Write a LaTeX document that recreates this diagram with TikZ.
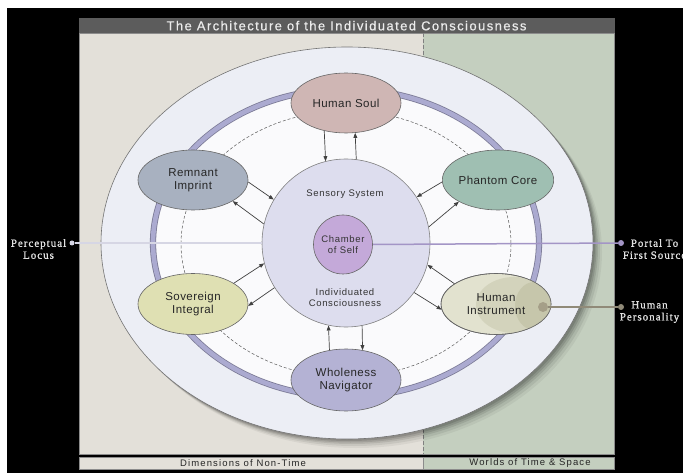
\documentclass[tikz,border=0pt]{standalone}
\usepackage{fontspec}
\setmainfont{Liberation Sans}
\newfontfamily\lblfont[LetterSpace=4]{Liberation Sans}
\newfontfamily\cfont[LetterSpace=7]{Liberation Sans}
\newfontfamily\titlefont[LetterSpace=11,FakeBold=0.6]{Liberation Sans}
\newfontfamily\footfont[LetterSpace=12]{Liberation Sans}
\newfontfamily\sidefont[LetterSpace=9,FakeBold=1]{Liberation Serif}
\usetikzlibrary{shapes.geometric,arrows.meta}
\definecolor{beige}{HTML}{E3E0D9}
\definecolor{sage}{HTML}{C4CFBF}
\definecolor{titlegray}{HTML}{5C5C5C}
\definecolor{outerfill}{HTML}{ECEEF5}
\definecolor{innerfill}{HTML}{FAFAFC}
\definecolor{ringedge}{HTML}{7C7B96}
\definecolor{ringfill}{HTML}{ABAAD0}
\definecolor{centerfill}{HTML}{DDDDEE}
\definecolor{chamberfill}{HTML}{C4A9D9}
\definecolor{soulfill}{HTML}{CFB6B4}
\definecolor{remfill}{HTML}{A8B1C0}
\definecolor{phanfill}{HTML}{9FBFB2}
\definecolor{sovfill}{HTML}{DFE0B3}
\definecolor{wholefill}{HTML}{B4B2D4}
\definecolor{hione}{HTML}{E2E2CF}
\definecolor{hitwo}{HTML}{D3D3BC}
\definecolor{hithree}{HTML}{C6C6AB}
\definecolor{hidot}{HTML}{A59F88}
\definecolor{portalline}{HTML}{A395C6}
\definecolor{locusline}{HTML}{D6D6E4}
\definecolor{persline}{HTML}{908A78}
\definecolor{sidetext}{HTML}{E2E2E2}
\tikzset{
  sat/.style={ellipse, draw=black!60, line width=0.6bp, inner sep=0pt,
    minimum width=110bp, minimum height=60bp, align=center,
    font=\lblfont\fontsize{11.5bp}{13bp}\selectfont, text=black!85},
  ctext/.style={align=center, inner sep=0pt,
    font=\cfont\fontsize{9.5bp}{10.5bp}\selectfont, text=black!80},
  arr/.style={-{Triangle[length=5bp,width=3.8bp]}, draw=black!75, line width=0.7bp},
  sidelbl/.style={align=center, inner sep=0pt, text=sidetext,
    font=\sidefont\fontsize{11bp}{12bp}\selectfont},
  footlbl/.style={inner sep=0pt, text=black!85,
    font=\footfont\fontsize{9.5bp}{10bp}\selectfont},
  dotnode/.style={circle, inner sep=0pt, minimum size=#1},
}
\begin{document}
\begin{tikzpicture}[x=1bp,y=-1bp]
\useasboundingbox (0,0) rectangle (683,473);
\fill[white] (0,0) rectangle (683,473);
\fill[black] (7,8) rectangle (683,473);
% panel
\fill[beige] (79,33) rectangle (423,454);
\fill[sage] (423,33) rectangle (614.5,454);
\draw[black!45, line width=0.6bp] (79,33) rectangle (614.5,454);
\draw[black!50, line width=0.6bp, dash pattern=on 4bp off 2bp] (423,33) -- (423,454);
\fill[titlegray] (79,18) rectangle (614.5,33);
\node[inner sep=0pt, text=black!8, font=\titlefont\fontsize{13bp}{14bp}\selectfont] (title) at (346.5,25.7) {The Architecture of the Individuated Consciousness};
% footer
\fill[beige] (79,457) rectangle (423,469.5);
\fill[sage] (423,457) rectangle (614.5,469.5);
\draw[black!45, line width=0.6bp] (79,457) rectangle (614.5,469.5);
\draw[black!45, line width=0.6bp] (423,457) -- (423,469.5);
\node[footlbl] (fl) at (243,463.5) {Dimensions of Non-Time};
\node[footlbl] (fr) at (530,463.5) {Worlds of Time \& Space};
% outer ellipse with shadow
\foreach \d/\o in {9/0.05,7/0.07,5/0.09,3.5/0.11,2/0.12}
  \fill[black, opacity=\o] (347+\d,243+\d) ellipse [x radius=246, y radius=196];
\filldraw[fill=outerfill, draw=black!55, line width=0.6bp] (347,243) ellipse [x radius=246, y radius=196];
\fill[innerfill] (346,243) ellipse [x radius=193, y radius=154];
\draw[ringedge, line width=6.2bp] (346,243) ellipse [x radius=193, y radius=154];
\draw[ringfill, line width=4.6bp] (346,243) ellipse [x radius=193, y radius=154];
\draw[black!65, line width=0.5bp, dash pattern=on 3bp off 2bp] (346,244) ellipse [x radius=165, y radius=133];
% side dots and labels
\node[dotnode=5bp, fill=locusline] (pdot) at (72,243) {};
\node[sidelbl] (plab) at (38.5,249) {Perceptual\\Locus};
\node[dotnode=6bp, fill=portalline] (fdot) at (621,243) {};
\node[sidelbl] (flab) at (654.5,249) {Portal To\\First Source};
\node[dotnode=6bp, fill=persline] (hdot) at (621,307) {};
\node[sidelbl] (hlab) at (649.5,312) {Human\\Personality};
% centre
\node[circle, draw=black!50, line width=0.6bp, fill=centerfill, minimum size=168bp, inner sep=0pt] (C) at (346,243) {};
\draw[locusline, line width=1.5bp] (pdot) -- (C.west);
\node[ctext, anchor=base] (ss) at (345,197) {Sensory System};
\node[ctext] (ic) at (345,297.5) {Individuated\\Consciousness};
\node[circle, draw=black!60, line width=0.6bp, fill=chamberfill, minimum size=59bp, inner sep=0pt, ctext] (CS) at (343,244.5) {Chamber\\of Self};
\draw[portalline, line width=1.5bp] (CS.east) -- (fdot);
% satellites
\node[sat, fill=soulfill] (HS) at (346,103) {Human Soul};
\node[sat, fill=remfill] (RI) at (193,180) {Remnant\\Imprint};
\node[sat, fill=phanfill] (PC) at (498,180) {Phantom Core};
\node[sat, fill=sovfill, minimum height=61bp] (SI) at (193,304) {Sovereign\\Integral};
\node[sat, fill=wholefill, minimum height=62bp] (WN) at (346,380) {Wholeness\\Navigator};
\node[sat, fill=hione, minimum height=61bp] (HI) at (496,304) {};
\begin{scope}
  \clip (496,304) ellipse [x radius=55, y radius=30.5];
  \fill[hitwo] (514,305) ellipse [x radius=38, y radius=28];
  \fill[hithree] (534,306) ellipse [x radius=19, y radius=24];
\end{scope}
\node[sat, minimum height=61bp] (HIT) at (496,304) {Human\\Instrument};
\node[dotnode=10bp, fill=hidot] (hpd) at (543,307) {};
\draw[persline, line width=1.2bp] (hpd) -- (hdot);
% arrows
\draw[arr] (HS.232.8) -- (C.104.5);
\draw[arr] (C.83.85) -- (HS.-73.1);
\draw[arr] (WN.119.96) -- (C.258.3);
\draw[arr] (C.-79) -- (WN.61.7);
\draw[arr] (RI.-2) -- (C.149.3);
\draw[arr] (C.167.3) -- (RI.-28.3);
\draw[arr] (SI.27.6) -- (C.194.7);
\draw[arr] (C.212.4) -- (SI.-2);
\draw[arr] (PC.182) -- (C.33.1);
\draw[arr] (C.11.5) -- (PC.209.9);
\draw[arr] (HI.154) -- (C.-15.6);
\draw[arr] (C.-36.2) -- (HI.186.3);
\end{tikzpicture}
\end{document}
